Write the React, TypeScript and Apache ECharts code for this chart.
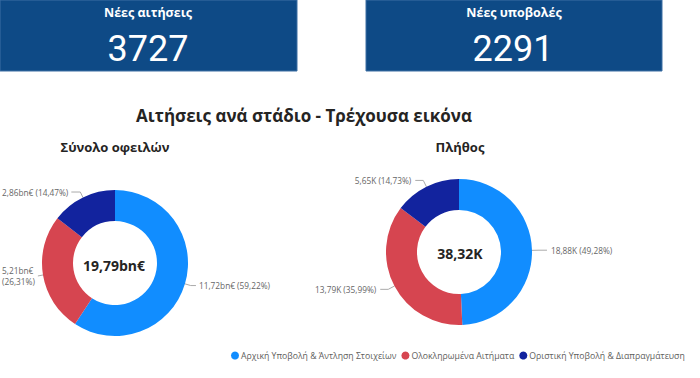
import React, { useEffect, useRef } from "react";
import * as echarts from "echarts";

const stages = [
  "Αρχική Υποβολή & Άντληση Στοιχείων",
  "Ολοκληρωμένα Αιτήματα",
  "Οριστική Υποβολή & Διαπραγμάτευση",
];
const debtValues = [11.72, 5.207, 2.864]; // bn€
const countValues = [18.884, 13.79, 5.646]; // K
const stageColors = ["#118DFF", "#D64550", "#12239E"];
const kpiTitles = ["Νέες αιτήσεις", "Νέες υποβολές"];
const kpiValues = ["3727", "2291"];
const mainTitle = "Αιτήσεις ανά στάδιο - Τρέχουσα εικόνα";
const chartTitles = ["Σύνολο οφειλών", "Πλήθος"];
const debtTotal = "19,79bn€";
const countTotal = "38,32K";

const gr = (n: number, d = 2) => n.toFixed(d).replace(".", ",");

export default function App() {
  const ref = useRef<HTMLDivElement>(null);
  useEffect(() => {
    const chart = echarts.init(ref.current!, null, { renderer: "svg" });
    const font = "'Open Sans', 'Noto Sans', sans-serif";
    const mkSeries = (
      values: number[],
      box: any,
      center: any,
      unit: string,
      len: number,
      len2: number,
      dist: number,
      wrapIndex: number,
      alignTo: string
    ) => ({
      type: "pie",
      ...box,
      center,
      radius: [42, 73],
      startAngle: 90,
      clockwise: true,
      avoidLabelOverlap: true,
      label: {
        show: true,
        position: "outside",
        alignTo,
        edgeDistance: 2,
        bleedMargin: 0,
        distanceToLabelLine: dist,
        overflow: "none",
        fontFamily: font,
        fontSize: 8.3,
        color: "#666666",
        lineHeight: 11,
        formatter: (p: any) =>
          `${gr(p.value)}${unit}${p.dataIndex === wrapIndex ? "\n" : " "}(${gr(p.percent)}%)`,
      },
      labelLine: {
        show: true,
        length: len,
        length2: len2,
        lineStyle: { color: "#AAAAAA", width: 1 },
      },
      emphasis: { disabled: true },
      data: values.map((v, i) => ({
        name: stages[i],
        value: v,
        itemStyle: { color: stageColors[i] },
      })),
    });
    chart.setOption({
      animation: false,
      graphic: [
        {
          type: "rect",
          shape: { x: 0, y: 0, width: 297, height: 71 },
          style: { fill: "#0E4A86", stroke: "#3C6EA3", lineWidth: 1 },
        },
        {
          type: "rect",
          shape: { x: 366, y: 0, width: 296, height: 71 },
          style: { fill: "#0E4A86", stroke: "#3C6EA3", lineWidth: 1 },
        },
        ...kpiTitles.map((t, i) => ({
          type: "text",
          x: i === 0 ? 148 : 514,
          y: 12,
          style: {
            text: t,
            fill: "#FFFFFF",
            font: `bold 12.5px ${font}`,
            textAlign: "center",
            textVerticalAlign: "middle",
          },
        })),
        ...kpiValues.map((t, i) => ({
          type: "text",
          x: i === 0 ? 148 : 513,
          y: 49,
          style: {
            text: t,
            fill: "#FFFFFF",
            font: `36px Roboto, sans-serif`,
            textAlign: "center",
            textVerticalAlign: "middle",
          },
        })),
        {
          type: "text",
          x: 304,
          y: 115,
          style: {
            text: mainTitle,
            fill: "#252423",
            font: `bold 17px ${font}`,
            textAlign: "center",
            textVerticalAlign: "middle",
          },
        },
        ...chartTitles.map((t, i) => ({
          type: "text",
          x: i === 0 ? 115 : 460,
          y: 147,
          style: {
            text: t,
            fill: "#252423",
            font: `bold 13px ${font}`,
            textAlign: "center",
            textVerticalAlign: "middle",
          },
        })),
        {
          type: "text",
          x: 114,
          y: 265,
          style: {
            text: debtTotal,
            fill: "#252423",
            font: `bold 14px ${font}`,
            textAlign: "center",
            textVerticalAlign: "middle",
          },
        },
        {
          type: "text",
          x: 460,
          y: 253,
          style: {
            text: countTotal,
            fill: "#252423",
            font: `bold 14px ${font}`,
            textAlign: "center",
            textVerticalAlign: "middle",
          },
        },
      ],
      legend: {
        left: 231,
        top: 351,
        width: 469,
        icon: "circle",
        itemWidth: 8,
        itemHeight: 8,
        itemGap: 5,
        padding: 0,
        textStyle: { fontFamily: font, fontSize: 8.7, color: "#605E5C", padding: [0, 0, 0, -3] },
        data: stages,
      },
      series: [
        mkSeries(
          debtValues,
          { left: 0, top: 0, width: 272, height: 378 },
          [115, 263],
          "bn€",
          6,
          5,
          3,
          1,
          "edge"
        ),
        mkSeries(
          countValues,
          { left: 0, top: 0, width: 700, height: 378 },
          [459, 252],
          "K",
          7,
          8,
          4,
          -1,
          "none"
        ),
      ],
    });
    return () => chart.dispose();
  }, []);
  return (
    <div
      ref={ref}
      style={{ position: "fixed", left: 0, top: 0, width: 700, height: 378, background: "#fff" }}
    />
  );
}
